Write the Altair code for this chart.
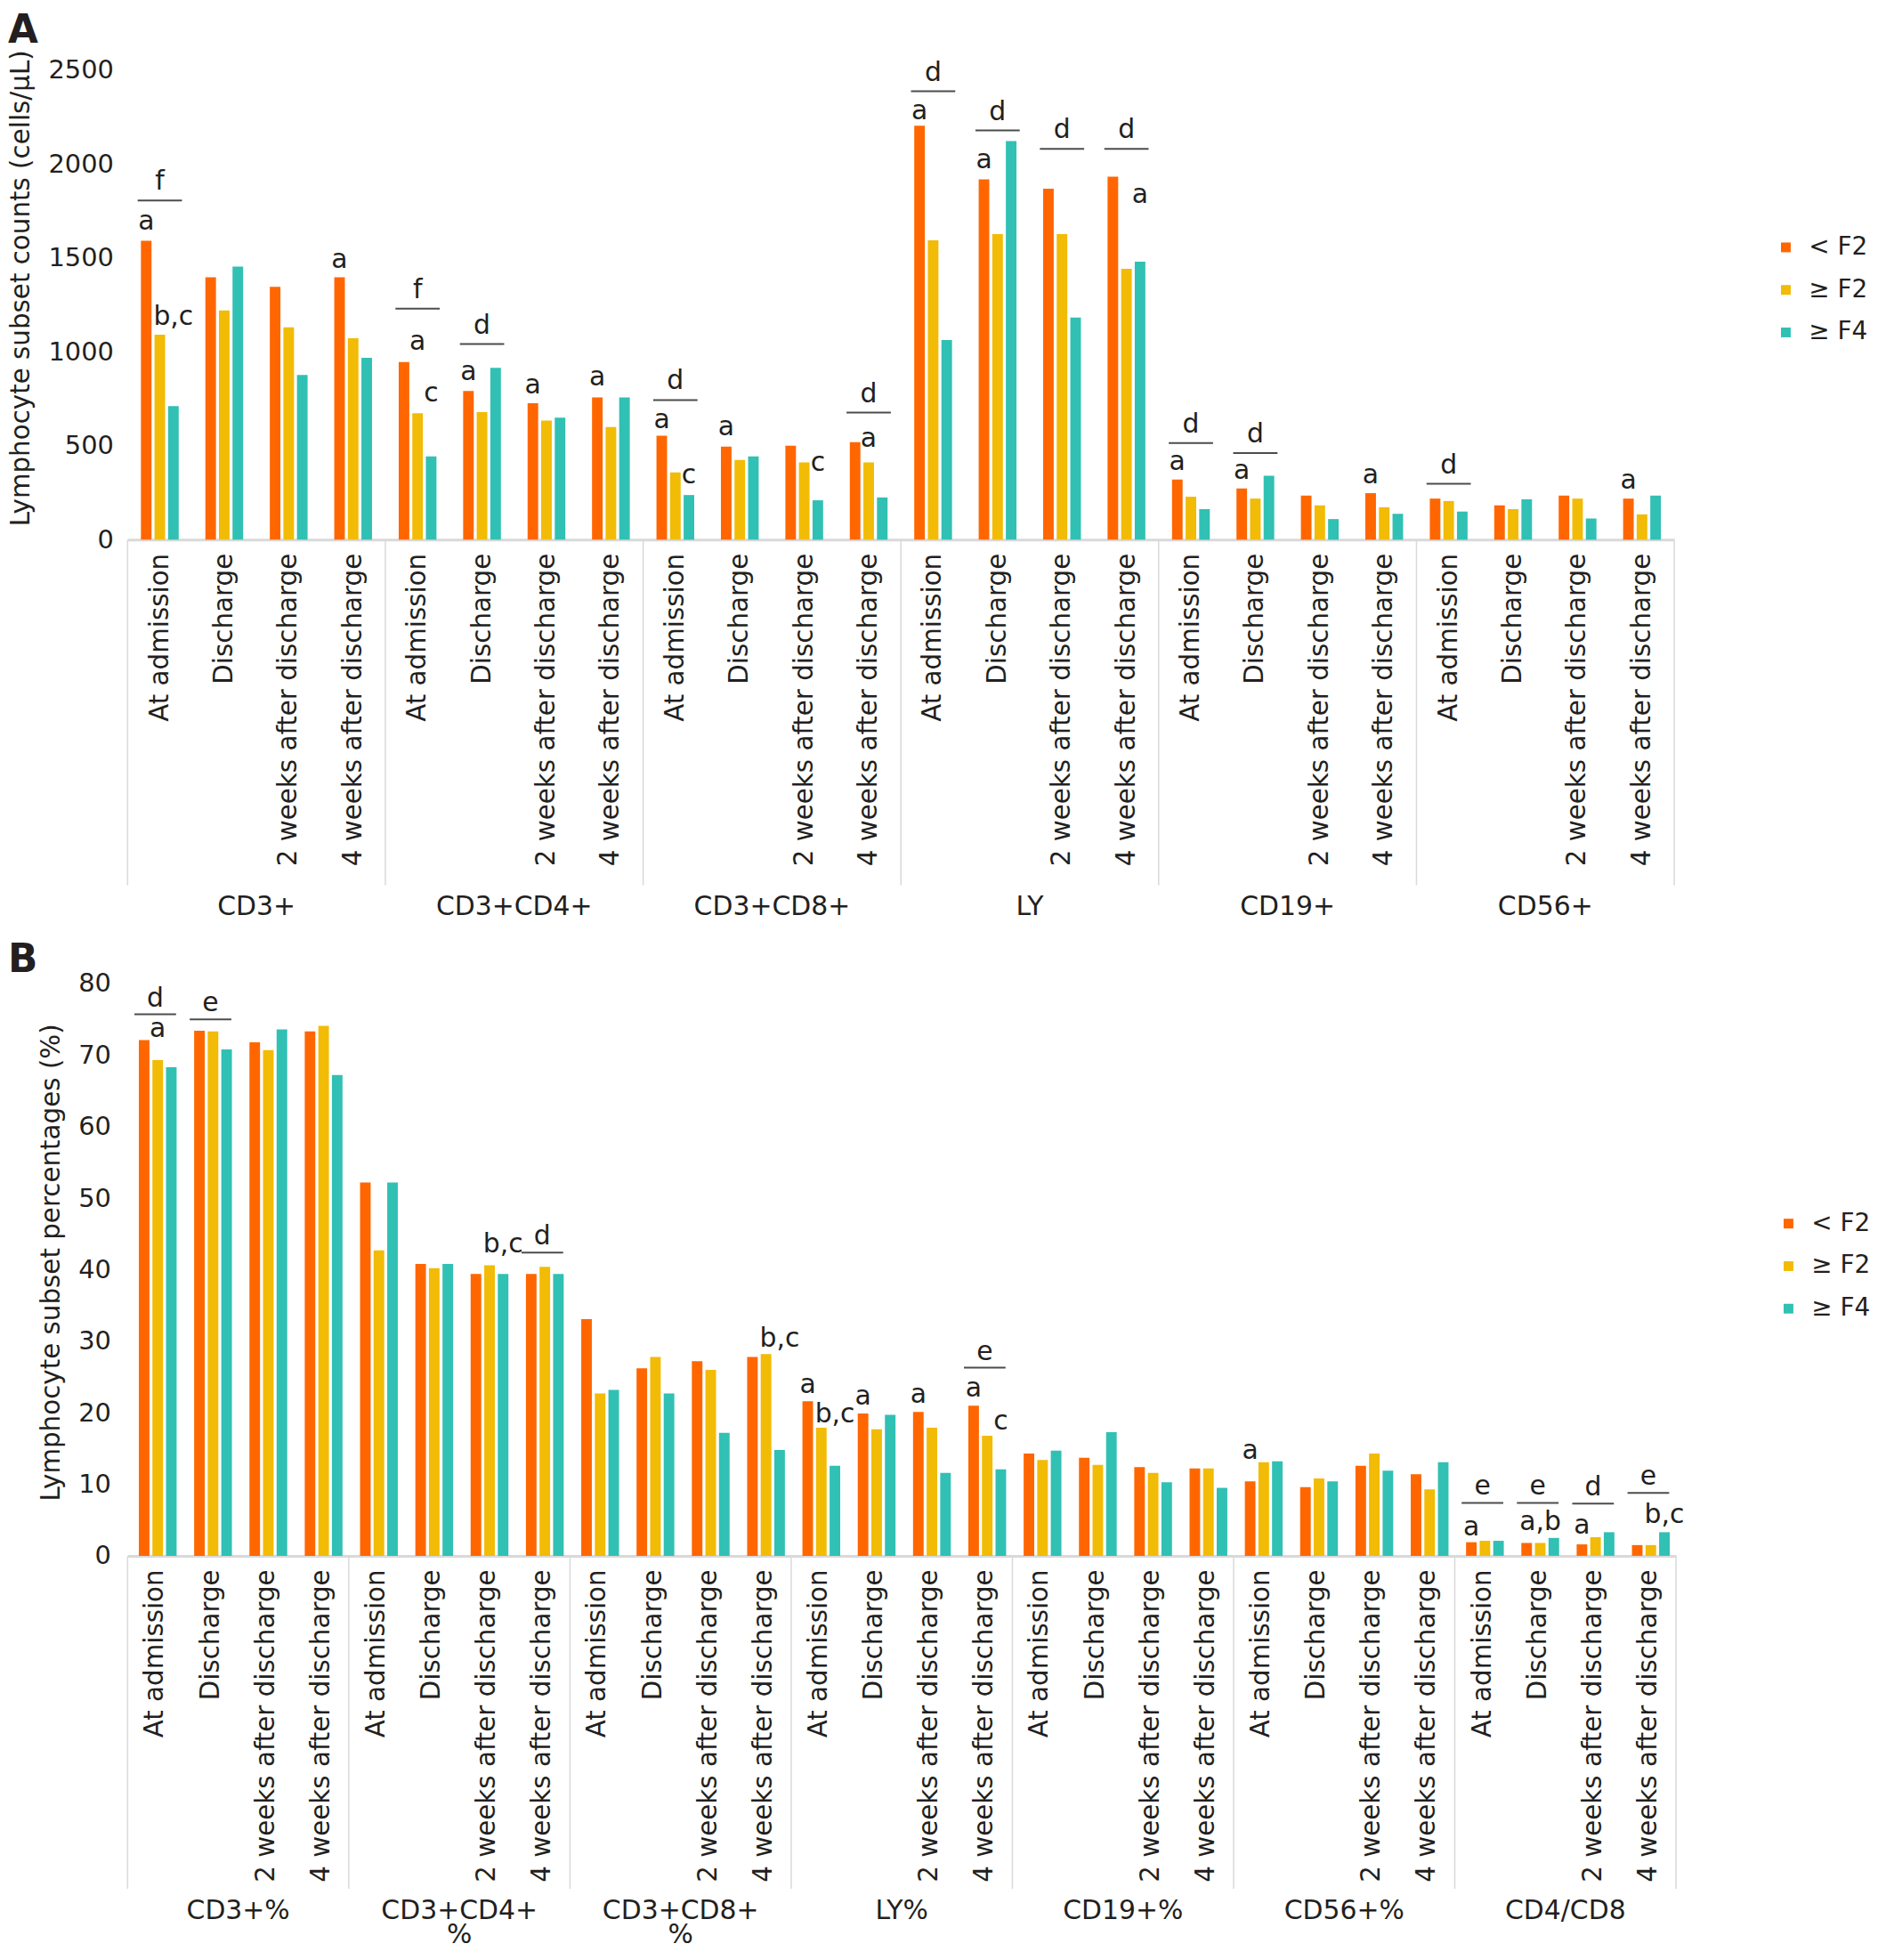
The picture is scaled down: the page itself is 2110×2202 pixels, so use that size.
import altair as alt
import pandas as pd

SERIES = ["< F2", "≥ F2", "≥ F4"]
COLORS = ["#FF6600", "#F2BB05", "#31C0B4"]
TIMES = ["At admission", "Discharge", "2 weeks after discharge", "4 weeks after discharge"]

# Panel A: counts (cells/uL), ordered group by group, 4 time points each
GROUPS_A = ["CD3+", "CD3+CD4+", "CD3+CD8+", "LY", "CD19+", "CD56+"]
A_LT_F2 = [1592, 1398, 1346, 1398, 946, 792, 727, 758, 554, 496, 500, 519,
           2204, 1919, 1869, 1933, 321, 273, 235, 248, 219, 183, 235, 219]
A_GE_F2 = [1092, 1221, 1131, 1073, 673, 679, 635, 600, 358, 425, 412, 412,
           1594, 1627, 1627, 1442, 229, 219, 183, 173, 206, 163, 219, 135]
A_GE_F4 = [711, 1454, 877, 969, 444, 915, 650, 758, 238, 444, 210, 225,
           1063, 2123, 1183, 1481, 163, 340, 110, 138, 150, 215, 113, 235]

# Panel B: percentages
GROUPS_B = ["CD3+%", "CD3+CD4+%", "CD3+CD8+%", "LY%", "CD19+%", "CD56+%", "CD4/CD8"]
GROUP_LABELS_B = ["CD3+%", "CD3+CD4+\n%", "CD3+CD8+\n%", "LY%", "CD19+%", "CD56+%", "CD4/CD8"]
B_LT_F2 = [72.1, 73.4, 71.8, 73.3, 52.2, 40.8, 39.4, 39.4, 33.1, 26.2, 27.2, 27.8,
           21.6, 19.9, 20.1, 21.0, 14.3, 13.7, 12.4, 12.2, 10.4, 9.6, 12.6, 11.4,
           1.9, 1.8, 1.6, 1.5]
B_GE_F2 = [69.3, 73.3, 70.7, 74.1, 42.7, 40.2, 40.6, 40.4, 22.7, 27.8, 26.0, 28.2,
           17.9, 17.7, 17.9, 16.8, 13.4, 12.7, 11.6, 12.2, 13.1, 10.8, 14.3, 9.3,
           2.1, 1.8, 2.6, 1.5]
B_GE_F4 = [68.3, 70.8, 73.6, 67.2, 52.2, 40.8, 39.4, 39.4, 23.2, 22.7, 17.2, 14.8,
           12.6, 19.7, 11.6, 12.1, 14.7, 17.3, 10.3, 9.5, 13.2, 10.4, 11.9, 13.1,
           2.1, 2.5, 3.3, 3.3]

# significance letters: (group, time index, series index, text, height in data units)
A_LETTERS = [
    ("CD3+", 0, 0, "a", 1650), ("CD3+", 0, 2, "b,c", 1144), ("CD3+", 3, 0, "a", 1448),
    ("CD3+CD4+", 0, 1, "a", 1010), ("CD3+CD4+", 0, 2, "c", 735), ("CD3+CD4+", 1, 0, "a", 850),
    ("CD3+CD4+", 2, 0, "a", 779), ("CD3+CD4+", 3, 0, "a", 821),
    ("CD3+CD8+", 0, 0, "a", 596), ("CD3+CD8+", 0, 2, "c", 298), ("CD3+CD8+", 1, 0, "a", 558),
    ("CD3+CD8+", 2, 2, "c", 369), ("CD3+CD8+", 3, 1, "a", 496),
    ("LY", 0, 0, "a", 2240), ("LY", 1, 0, "a", 1977), ("LY", 3, 2, "a", 1792),
    ("CD19+", 0, 0, "a", 371), ("CD19+", 1, 0, "a", 323), ("CD19+", 3, 0, "a", 302),
    ("CD56+", 3, 0, "a", 273),
]
# bracket lines: (group, time index, height, letter above)
A_LINES = [
    ("CD3+", 0, 1806, "f"), ("CD3+CD4+", 0, 1231, "f"), ("CD3+CD4+", 1, 1042, "d"),
    ("CD3+CD8+", 0, 744, "d"), ("CD3+CD8+", 3, 677, "d"),
    ("LY", 0, 2388, "d"), ("LY", 1, 2179, "d"), ("LY", 2, 2081, "d"), ("LY", 3, 2081, "d"),
    ("CD19+", 0, 515, "d"), ("CD19+", 1, 462, "d"), ("CD56+", 0, 298, "d"),
]
B_LETTERS = [
    ("CD3+%", 0, 1, "a", 72.5), ("CD3+CD4+%", 2, 2, "b,c", 42.4), ("CD3+CD8+%", 3, 2, "b,c", 29.2),
    ("LY%", 0, 0, "a", 22.7), ("LY%", 0, 2, "b,c", 18.6), ("LY%", 1, 0, "a", 21.1),
    ("LY%", 2, 0, "a", 21.4), ("LY%", 3, 0, "a", 22.2), ("LY%", 3, 2, "c", 17.6),
    ("CD56+%", 0, 0, "a", 13.6),
    ("CD4/CD8", 0, 0, "a", 2.9), ("CD4/CD8", 1, 1, "a,b", 3.6), ("CD4/CD8", 2, 0, "a", 3.1),
    ("CD4/CD8", 3, 2, "b,c", 4.6),
]
B_LINES = [
    ("CD3+%", 0, 75.7, "d"), ("CD3+%", 1, 75.0, "e"), ("CD3+CD4+%", 3, 42.4, "d"),
    ("LY%", 3, 26.3, "e"),
    ("CD4/CD8", 0, 7.4, "e"), ("CD4/CD8", 1, 7.4, "e"), ("CD4/CD8", 2, 7.3, "d"),
    ("CD4/CD8", 3, 8.8, "e"),
]

FONT = "DejaVu Sans"
TXT = "#231F20"
GRAY = "#D9D9D9"


def key(g, t):
    return f"{g}|{t}"


def panel(groups, glabels, series_vals, letters, lines, ymax, ystep, W, H, pad,
          tick_size, ytitle, label_pad_y, title_x, title_y, legend_x, legend_y,
          letter, letter_x, letter_y, sep_len, glabel_y, dy_top):
    keys = [key(g, t) for g in groups for t in TIMES]
    rows = []
    for si, s in enumerate(SERIES):
        for gi, g in enumerate(groups):
            for ti, t in enumerate(TIMES):
                rows.append(dict(key=key(g, t), series=s, value=series_vals[si][gi * 4 + ti]))
    bars_df = pd.DataFrame(rows)
    let_df = pd.DataFrame([dict(key=key(g, TIMES[ti]), series=SERIES[si], value=v, text=tx)
                           for g, ti, si, tx, v in letters])
    line_df = pd.DataFrame([dict(key=key(g, TIMES[ti]), value=v, text=tx)
                            for g, ti, v, tx in lines])
    grp_df = pd.DataFrame(dict(group=groups, glabel=glabels))

    x_enc = alt.X("key:N", sort=keys,
                  scale=alt.Scale(domain=keys, paddingInner=pad, paddingOuter=pad / 2),
                  axis=alt.Axis(title=None, labelExpr="split(datum.label, '|')[1]",
                                labelAngle=-90, labelFontSize=29.5, labelFont=FONT,
                                labelColor=TXT, labelPadding=15, labelLimit=1000,
                                labelOverlap=False, ticks=False, domainColor=GRAY,
                                domainWidth=3))
    y_enc = alt.Y("value:Q", scale=alt.Scale(domain=[0, ymax], nice=False),
                  axis=alt.Axis(title=None, values=list(range(0, ymax + 1, ystep)),
                                format="d", labelFontSize=29, labelFont=FONT, labelColor=TXT,
                                labelPadding=label_pad_y, ticks=False, domain=False,
                                grid=False))
    xo_enc = alt.XOffset("series:N", sort=SERIES,
                         scale=alt.Scale(domain=SERIES, paddingInner=0.22, paddingOuter=0))

    bars = alt.Chart(bars_df).mark_bar().encode(
        x=x_enc, xOffset=xo_enc, y=y_enc,
        color=alt.Color("series:N", sort=SERIES,
                        scale=alt.Scale(domain=SERIES, range=COLORS),
                        legend=alt.Legend(title=None, orient="none", legendX=legend_x,
                                          legendY=legend_y, symbolType="square",
                                          symbolSize=121, symbolStrokeWidth=0,
                                          labelFontSize=28, labelFont=FONT, labelColor=TXT,
                                          rowPadding=20, labelOffset=12)))
    lets = alt.Chart(let_df).mark_text(font=FONT, fontSize=30, color=TXT, baseline="alphabetic",
                                       align="center").encode(
        x=x_enc, xOffset=xo_enc, y=y_enc, text="text:N")
    ticks = alt.Chart(line_df).mark_tick(color="#000000", size=tick_size, thickness=2,
                                         orient="horizontal").encode(x=x_enc, y=y_enc)
    tops = alt.Chart(line_df).mark_text(font=FONT, fontSize=30, color=TXT, baseline="alphabetic",
                                        align="center", dy=-dy_top).encode(
        x=x_enc, y=y_enc, text="text:N")
    main = alt.layer(bars, ticks, tops, lets)

    gx_scale = alt.Scale(domain=groups, paddingInner=0, paddingOuter=0)
    seps = alt.Chart(grp_df).mark_rule(color=GRAY, strokeWidth=1.5).encode(
        x=alt.X("group:N", sort=groups, scale=gx_scale, axis=None, bandPosition=0),
        y=alt.value(H), y2=alt.value(H + sep_len))
    sep_end = alt.Chart(grp_df).transform_filter(
        alt.datum.group == groups[-1]).mark_rule(color=GRAY, strokeWidth=1.5).encode(
        x=alt.X("group:N", sort=groups, scale=gx_scale, axis=None, bandPosition=1),
        y=alt.value(H), y2=alt.value(H + sep_len))
    glab = alt.Chart(grp_df).mark_text(font=FONT, fontSize=30, color=TXT, baseline="top",
                                       align="center", lineBreak="\n", lineHeight=27).encode(
        x=alt.X("group:N", sort=groups, scale=gx_scale, axis=None),
        y=alt.value(H + glabel_y), text="glabel:N")
    plet = alt.Chart(pd.DataFrame({"t": [letter]})).mark_text(
        font=FONT, fontSize=44, fontWeight="bold", color=TXT, baseline="top",
        align="left").encode(x=alt.value(letter_x), y=alt.value(letter_y), text="t:N")
    ytl = alt.Chart(pd.DataFrame({"t": [ytitle]})).mark_text(
        font=FONT, fontSize=29.5, color=TXT, baseline="middle", align="center",
        angle=270).encode(x=alt.value(title_x), y=alt.value(title_y), text="t:N")
    grp = alt.layer(seps, sep_end, glab, plet, ytl)

    return alt.layer(main, grp).resolve_scale(x="independent").properties(width=W, height=H)


HA, WA = 530, 1746
HB, WB = 646, 1748

panel_a = panel(GROUPS_A, GROUPS_A, [A_LT_F2, A_GE_F2, A_GE_F4], A_LETTERS, A_LINES,
                2500, 500, WA, HA, 0.414, 50, "Lymphocyte subset counts (cells/μL)",
                16, -120, 246, 1858, 186, "A", -135, -66, 390, 400, 12)
panel_b = panel(GROUPS_B, GROUP_LABELS_B, [B_LT_F2, B_GE_F2, B_GE_F4], B_LETTERS, B_LINES,
                80, 10, WB, HB, 0.407, 47, "Lymphocyte subset percentages (%)",
                19, -86, 315, 1861, 257, "B", -135, -48, 376, 386, 9)

chart = alt.vconcat(panel_a, panel_b, spacing=23).resolve_scale(
    x="independent", y="independent", color="independent"
).properties(padding=0, background="white").configure_view(stroke=None)

chart.save("out.html", embed_options={"renderer": "svg", "actions": False})
